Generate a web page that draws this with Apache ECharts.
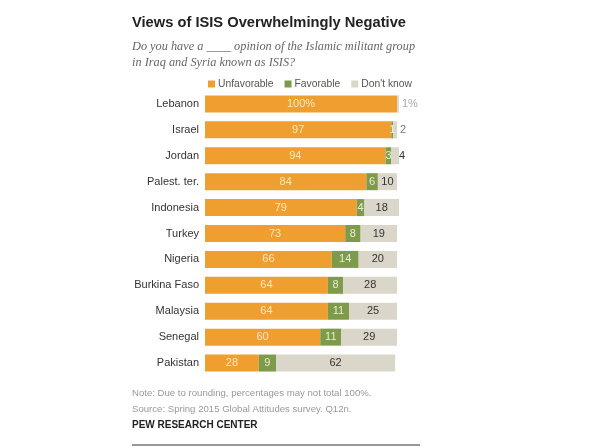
<!DOCTYPE html>
<html><head><meta charset="utf-8">
<script src="https://cdn.jsdelivr.net/npm/echarts@6/dist/echarts.min.js"></script>
<style>html,body{margin:0;padding:0;background:#fff}#c{width:600px;height:448px}</style>
</head><body><div id="c"></div>
<script>
const categories = ['Lebanon','Israel','Jordan','Palest. ter.','Indonesia','Turkey','Nigeria','Burkina Faso','Malaysia','Senegal','Pakistan'];
const unfavorable = [100,97,94,84,79,73,66,64,64,60,28];
const favorable = [0,1,3,6,4,8,14,8,11,11,9];
const dontKnow = [1,2,4,10,18,19,20,28,25,29,62];
const seriesNames = ['Unfavorable','Favorable',"Don't know"];
const colors = ['#EE9F30','#7E9A4B','#DAD6CA'];

const chart = echarts.init(document.getElementById('c'));
const font = 'Liberation Sans, Arial, sans-serif';
function dkData(){
  return dontKnow.map((v,i)=>{
    if (v < 5) {
      return {value:v, label:{position:'right', distance: i===2 ? 0 : 3, color: i===0 ? '#aaa' : (i===2 ? '#333' : '#777'),
        formatter: i===0 ? v+'%' : String(v)}};
    }
    return {value:v};
  });
}
chart.setOption({
  animation:false,
  title:[
    {text:'Views of ISIS Overwhelmingly Negative', left:127, top:10,
     textStyle:{fontFamily:font, fontWeight:'bold', fontSize:14.7, color:'#222'}},
    {text:'Do you have a ____ opinion of the Islamic militant group\nin Iraq and Syria known as ISIS?', left:127, top:34,
     textStyle:{fontFamily:'Liberation Serif, serif', fontStyle:'italic', fontWeight:'normal', fontSize:12.3, color:'#666', lineHeight:16}}
  ],
  legend:{top:74, left:203, itemWidth:7, itemHeight:7, itemGap:11,
    icon:'rect', textStyle:{fontFamily:font, fontSize:10.3, color:'#555', padding:[0,0,0,-2]},
    data:seriesNames},
  grid:{left:205, top:91, width:194, height:285},
  xAxis:{type:'value', min:0, max:101, show:false},
  yAxis:{type:'category', data:categories, inverse:true,
    axisLine:{show:false}, axisTick:{show:false},
    axisLabel:{fontFamily:font, fontSize:11, color:'#333', margin:6}},
  series:[
    {name:seriesNames[0], type:'bar', stack:'t', barWidth:17, data:unfavorable,
     itemStyle:{color:colors[0]},
     label:{show:true, position:'inside', fontFamily:font, fontSize:11, color:'#FCE6C4',
       formatter:p=> p.dataIndex===0 ? p.value+'%' : p.value}},
    {name:seriesNames[1], type:'bar', stack:'t', barWidth:17, data:favorable,
     itemStyle:{color:colors[1]},
     label:{show:true, position:'inside', fontFamily:font, fontSize:11, color:'#E6EDD3',
       formatter:p=> p.value>0 ? p.value : ''}},
    {name:seriesNames[2], type:'bar', stack:'t', barWidth:17, data:dkData(),
     itemStyle:{color:colors[2]},
     label:{show:true, position:'inside', fontFamily:font, fontSize:11, color:'#333'}}
  ],
  graphic:[
    {type:'text', left:132, top:388, style:{text:'Note: Due to rounding, percentages may not total 100%.', font:'9.6px '+font, fill:'#999'}},
    {type:'text', left:132, top:404, style:{text:'Source: Spring 2015 Global Attitudes survey. Q12n.', font:'9.6px '+font, fill:'#999'}},
    {type:'text', left:132, top:420, style:{text:'PEW RESEARCH CENTER', font:'bold 10px '+font, fill:'#222'}},
    {type:'line', shape:{x1:132, y1:445, x2:420, y2:445}, style:{stroke:'#333', lineWidth:1.2}}
  ]
});
</script></body></html>
